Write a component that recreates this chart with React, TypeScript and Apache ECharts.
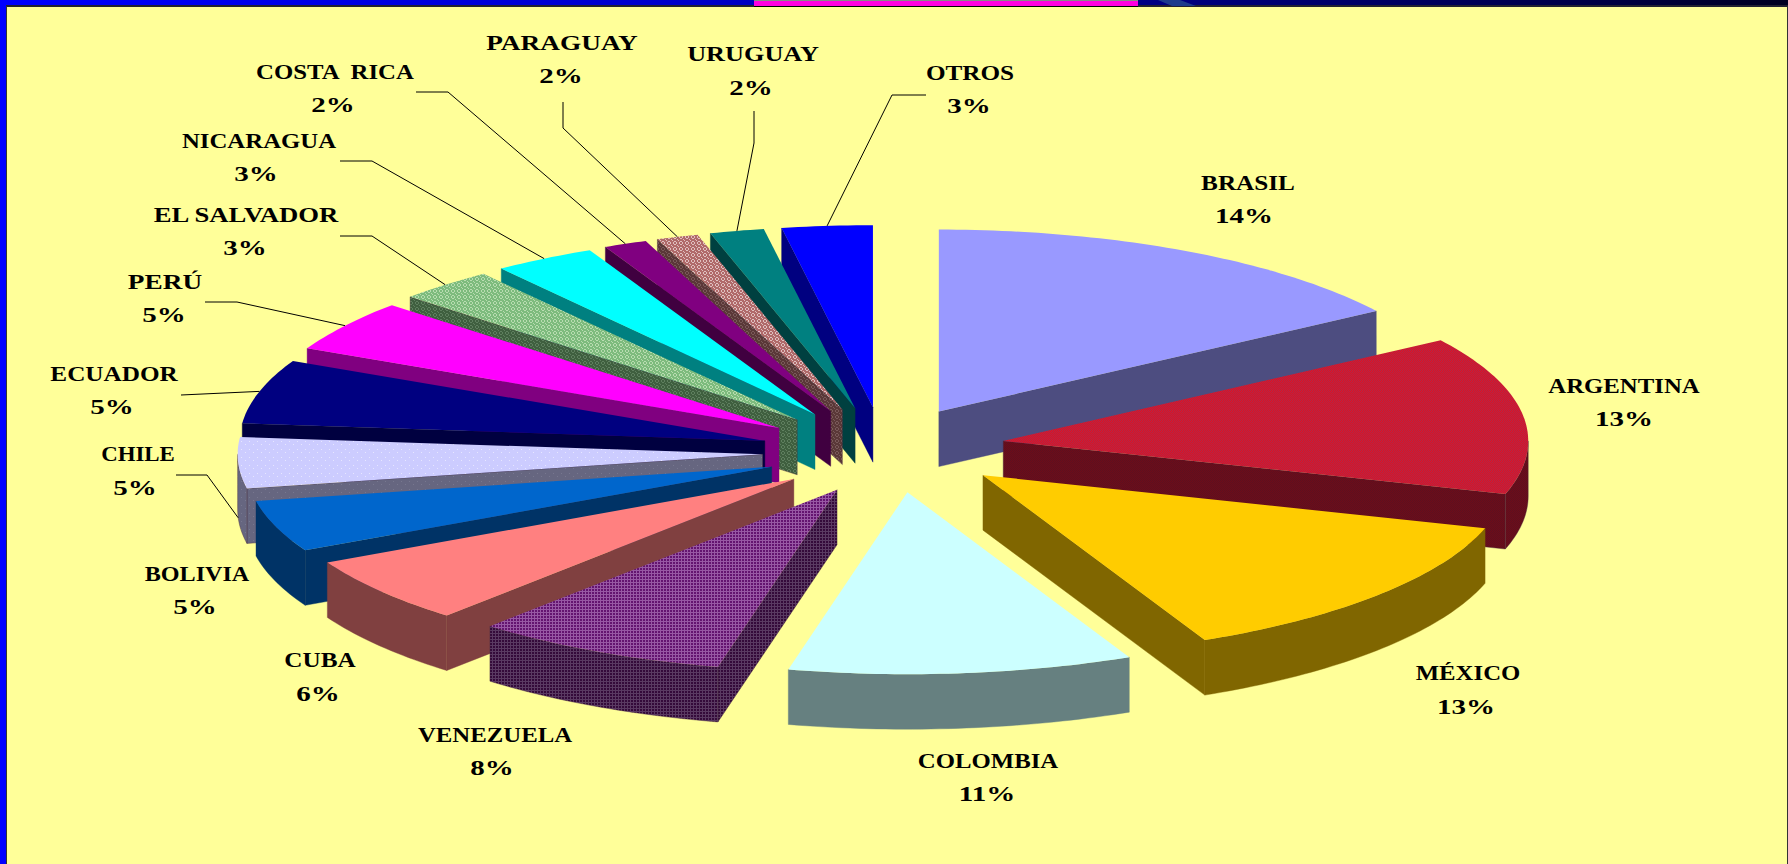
import React, { useEffect, useRef } from "react";
import * as echarts from "echarts";

const countries = ["BRASIL", "ARGENTINA", "MÉXICO", "COLOMBIA", "VENEZUELA", "CUBA", "BOLIVIA", "CHILE", "ECUADOR", "PERÚ", "EL SALVADOR", "NICARAGUA", "COSTA  RICA", "PARAGUAY", "URUGUAY", "OTROS"];
const percents = [14, 13, 13, 11, 8, 6, 5, 5, 5, 5, 3, 3, 2, 2, 2, 3];

function pattern(size: number, base: string, dot: string, cells: number[][]) {
  const c = document.createElement("canvas");
  c.width = size;
  c.height = size;
  const g = c.getContext("2d")!;
  g.fillStyle = base;
  g.fillRect(0, 0, size, size);
  g.fillStyle = dot;
  cells.forEach(([x, y]) => g.fillRect(x, y, 1, 1));
  return { image: c, repeat: "repeat" };
}
const checker = [[0, 0], [2, 0], [1, 1], [3, 1], [0, 2], [2, 2], [1, 3], [3, 3]];
const grid = [[0, 0], [1, 0], [2, 0], [0, 1], [0, 2]];
const ring = [[2, 1], [3, 1], [1, 2], [4, 2], [1, 3], [4, 3], [2, 4], [3, 4], [0, 0], [5, 5]];
const sparse = [[1, 1], [5, 4]];

const topFills: any[] = [
  "#9999FF",
  pattern(4, "#DE1022", "#B02848", checker),
  "#FFCC00",
  "#CCFFFF",
  pattern(3, "#641470", "#9858A4", grid),
  "#FF8080",
  "#0066CC",
  pattern(8, "#CCCCFF", "#E6E6FF", sparse),
  "#000080",
  "#FF00FF",
  pattern(6, "#7DBB7D", "#B8DDB0", ring),
  "#00FFFF",
  "#800080",
  pattern(6, "#B06A6A", "#E0C0C0", ring),
  "#008080",
  "#0000FF",
];
const sideFills: any[] = [
  "#4D4D80",
  pattern(4, "#6E0C18", "#5C1020", checker),
  "#806600",
  "#668080",
  pattern(3, "#340A3A", "#5A3A62", grid),
  "#804040",
  "#003366",
  pattern(8, "#666680", "#77778F", sparse),
  "#000040",
  "#800080",
  pattern(6, "#3F5F3F", "#5F7F5F", ring),
  "#008080",
  "#400040",
  pattern(6, "#5A3838", "#7A5A5A", ring),
  "#004040",
  "#000080",
];

// label layout: [name x, name y, percent x, percent y]
const labelSpots = [
  [1248, 183, 1244, 216], [1624, 386, 1624, 419], [1468, 673, 1466, 707], [988, 761, 987, 794],
  [495, 735, 492, 768], [320, 660, 318, 694], [197, 574, 195, 607], [138, 454, 135, 488],
  [114, 374, 112, 407], [165, 282, 164, 315], [246, 215, 245, 248], [259, 141, 256, 174],
  [335, 72, 333, 105], [562, 43, 561, 76], [753, 54, 751, 88], [970, 73, 969, 106],
];
const nameStretch = [1.2, 1.18, 1.18, 1.18, 1.18, 1.2, 1.15, 1.09, 1.2, 1.3, 1.27, 1.18, 1.18, 1.3, 1.25, 1.2];
// leader elbows (start, bend); the far end is computed on the slice rim
const leaderElbows: Record<number, number[][]> = {
  7: [[176, 475], [207, 475]],
  8: [[181, 395], [181, 395]],
  9: [[205, 302], [237, 302]],
  10: [[340, 236], [372, 236]],
  11: [[340, 161], [372, 161]],
  12: [[416, 92], [448, 92]],
  13: [[563, 102], [563, 128]],
  14: [[754, 111], [754, 143]],
  15: [[926, 95], [892, 95]],
};
const leaderDrop: Record<number, number> = { 7: 55 };

const CX = 884, CY = 450, RX = 525, RY = 182, EX = 122, EY = 43, DEPTH = 55;
// perspective of the tilted pie: how far each pie angle is pushed round the rim
const warpStops = [
  [0, 0], [50, 6], [100, 10], [144, 11], [184, 9.5], [212, 9], [234, 8.7], [252, 7.2], [270, 5.5],
  [288, 8], [306, 6.5], [317, 6.5], [328, 7], [335, 4.5], [342, 2], [349, 0.8], [360, 0],
];
const warpOffset = (t: number) => {
  for (let k = 1; k < warpStops.length; k++) {
    const [a, oa] = warpStops[k - 1];
    const [b, ob] = warpStops[k];
    if (t <= b) return oa + ((ob - oa) * (t - a)) / (b - a);
  }
  return 0;
};
const warp = (t: number) => t + warpOffset(t);
const rad = (d: number) => (d * Math.PI) / 180;

const cumulative: number[] = [];
percents.reduce((s, v, i) => ((cumulative[i] = s), s + v), 0);

function renderItem(params: any, api: any) {
  const i = params.dataIndex;
  const v = api.value(0);
  const t0 = (api.value(1) * 360) / 100;
  const t1 = ((api.value(1) + v) * 360) / 100;
  const from = warp(t0);
  const to = warp(t1);
  const mid = (from + to) / 2;
  const dir = rad(((t0 + t1) / 2 + mid) / 2);
  const ax = CX + EX * Math.sin(dir);
  const ay = CY - EY * Math.cos(dir);
  const rimAt = (f: number) => [ax + RX * Math.sin(rad(f)), ay - RY * Math.cos(rad(f))];
  const n = Math.max(8, Math.ceil(to - from));
  const arc: number[][] = [];
  for (let k = 0; k <= n; k++) arc.push(rimAt(from + ((to - from) * k) / n));
  const apex = [ax, ay];
  const down = (p: number[]) => [p[0], p[1] + DEPTH];
  const z2 = Math.round((1 - Math.cos(rad(mid))) * 100) + 1;
  const side = sideFills[i];
  const children: any[] = [];
  const wall = (pts: number[][]) =>
    children.push({
      type: "polygon",
      z2,
      shape: { points: [...pts, ...pts.map(down).reverse()] },
      style: { fill: side, stroke: typeof side === "string" ? side : "#4a2a40", lineWidth: 0.4 },
    });
  const first = arc[0];
  const last = arc[arc.length - 1];
  if (first[0] < apex[0]) wall([apex, first]);
  if (last[0] > apex[0]) wall([last, apex]);
  const lo = Math.max(from, 90), hi = Math.min(to, 270);
  if (hi > lo) {
    const rim: number[][] = [];
    const m = Math.max(8, Math.ceil(hi - lo));
    for (let k = 0; k <= m; k++) rim.push(rimAt(lo + ((hi - lo) * k) / m));
    wall(rim);
  }
  children.push({
    type: "polygon",
    z2,
    shape: { points: [apex, ...arc] },
    style: { fill: topFills[i] },
  });
  const spot = labelSpots[i];
  const text = (s: string, x: number, y: number, stretch: number) => ({
    type: "text",
    x,
    y,
    scaleX: stretch,
    z2: 400,
    style: {
      text: s,
      x: 0,
      y: 0,
      fill: "#000000",
      font: 'bold 21px "Liberation Serif", serif',
      align: "center",
      verticalAlign: "middle",
    },
  });
  children.push(text(countries[i], spot[0], spot[1], nameStretch[i]));
  children.push(text(`${v}%`, spot[2], spot[3], 1.38));
  const elbow = leaderElbows[i];
  if (elbow) {
    const end = rimAt(mid);
    end[1] += leaderDrop[i] || 0;
    children.push({
      type: "polyline",
      z2: 399,
      shape: { points: [...elbow, end] },
      style: { stroke: "#000000", lineWidth: 1, fill: "none" },
    });
  }
  return { type: "group", children };
}

export default function App() {
  const ref = useRef<HTMLDivElement>(null);
  useEffect(() => {
    const chart = echarts.init(ref.current!, null, { renderer: "svg" });
    chart.setOption({
      animation: false,
      backgroundColor: "#FFFF99",
      graphic: [
        {
          type: "rect",
          z: 10,
          shape: { x: 0, y: 0, width: 1788, height: 6 },
          style: {
            fill: new echarts.graphic.LinearGradient(0, 0, 1, 0, [
              { offset: 0, color: "#0000FF" },
              { offset: 0.4, color: "#0000C8" },
              { offset: 0.68, color: "#00007A" },
              { offset: 0.9, color: "#000044" },
              { offset: 1, color: "#000020" },
            ]),
          },
        },
        { type: "rect", z: 10, shape: { x: 0, y: 5, width: 1788, height: 2 }, style: { fill: "#222233" } },
        { type: "rect", z: 11, shape: { x: 754, y: 0, width: 384, height: 6 }, style: { fill: "#FF00E0" } },
        { type: "rect", z: 11, shape: { x: 754, y: 0, width: 384, height: 1 }, style: { fill: "#888888" } },
        { type: "rect", z: 11, shape: { x: 754, y: 6, width: 384, height: 1 }, style: { fill: "#000000" } },
        { type: "polygon", z: 11, shape: { points: [[1158, 0], [1180, 0], [1196, 6], [1172, 6]] }, style: { fill: "#1E3C8C" } },
        { type: "rect", z: 10, shape: { x: 0, y: 0, width: 6, height: 864 }, style: { fill: "#0000FF" } },
        { type: "rect", z: 10, shape: { x: 6, y: 6, width: 1, height: 858 }, style: { fill: "#333333" } },
        { type: "rect", z: 10, shape: { x: 1787, y: 6, width: 1, height: 858 }, style: { fill: "#333333" } },
      ],
      series: [
        {
          type: "custom",
          coordinateSystem: "none",
          silent: true,
          renderItem,
          data: percents.map((v, i) => ({ name: countries[i], value: [v, cumulative[i]] })),
        },
      ],
    });
    return () => chart.dispose();
  }, []);
  return <div ref={ref} style={{ position: "fixed", left: 0, top: 0, width: 1788, height: 864 }} />;
}
